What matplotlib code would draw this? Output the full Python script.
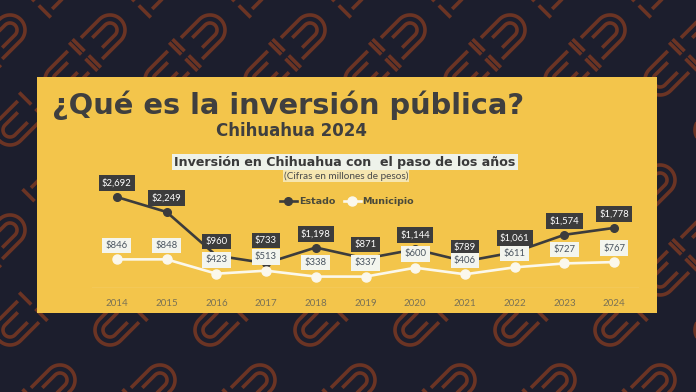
import numpy as np
import matplotlib.pyplot as plt
from matplotlib.patches import Rectangle

# data (millones de pesos)
years = ['2014', '2015', '2016', '2017', '2018', '2019', '2020', '2021', '2022', '2023', '2024']
estado = [2692, 2249, 960, 733, 1198, 871, 1144, 789, 1061, 1574, 1778]
municipio = [846, 848, 423, 513, 338, 337, 600, 406, 611, 727, 767]

title = '¿Qué es la inversión pública?'
subtitle = 'Chihuahua 2024'
chart_title = 'Inversión en Chihuahua con  el paso de los años'
chart_note = '(Cifras en millones de pesos)'

NAVY = '#1c1e2d'
BROWN = '#6b3424'
YELLOW = '#f3c54b'
DARK = '#3c3c3c'
LIGHT = '#f3f5ee'
HEAD = 'DejaVu Sans'
FONT = 'Lato'


def motif(ax, cx, cy, ang):
    """Arch-shaped decoration of the background pattern (pixel coords)"""
    d = np.array([np.cos(ang), np.sin(ang)])
    n = np.array([-d[1], d[0]])
    t = np.linspace(-np.pi / 2, np.pi / 2, 40)
    for r, leg in ((7, 18), (15, 26)):
        u = np.concatenate([[-leg], np.cos(t) * r, [-leg]])
        v = np.concatenate([[-r], np.sin(t) * r, [r]])
        x = cx + u * d[0] + v * n[0]
        y = cy + u * d[1] + v * n[1]
        ax.plot(x, y, color=BROWN, lw=2.6, solid_capstyle='butt', zorder=1)
    # short cross bars below the legs
    for s in (-1, 1):
        u = np.array([-leg - 7, -leg - 7])
        v = np.array([s * 3, s * 20])
        ax.plot(cx + u * d[0] + v * n[0], cy + u * d[1] + v * n[1],
                color=BROWN, lw=2.6, solid_capstyle='butt', zorder=1)


fig = plt.figure(figsize=(6.96, 3.92), dpi=100)
fig.patch.set_facecolor(NAVY)

# background layer in pixel coordinates
bg = fig.add_axes([0, 0, 1, 1])
bg.set_xlim(0, 696)
bg.set_ylim(392, 0)
bg.axis('off')

for row, cy in enumerate(np.arange(-20, 440, 50)):
    for cx in np.arange(-40 + (row % 2) * 50, 760, 100):
        motif(bg, cx, cy, -np.pi / 4 if (row // 2) % 2 == 0 else 3 * np.pi / 4)

bg.add_patch(Rectangle((37, 77), 620, 236, facecolor=YELLOW, edgecolor='none', zorder=5))

bg.text(52, 113.5, title, fontsize=20.8, fontweight='bold', family=HEAD,
        color='#3f3f3f', ha='left', va='baseline', zorder=6)
bg.text(292, 131, subtitle, fontsize=12, fontweight='bold', family=HEAD,
        color='#3f3f3f', ha='center', va='center', zorder=6)
bg.text(345, 162, chart_title, fontsize=9.1, fontweight='bold', family=HEAD,
        color='#3a3a3a', ha='center', va='center', zorder=6,
        bbox=dict(boxstyle='square,pad=0.15', facecolor='#eef2ea', edgecolor='none'))
bg.text(346, 176, chart_note, fontsize=7.2, family=FONT, color='#4a4a4a',
        ha='center', va='center', zorder=6,
        bbox=dict(boxstyle='square,pad=0.1', facecolor='#f6e6b0', edgecolor='none'))

# chart area: y = 0 sits on the light baseline
ax = fig.add_axes([92 / 696, 1 - 288 / 392, 547 / 696, 101.4 / 392])
ax.set_facecolor('none')
ax.set_zorder(10)
x = np.arange(len(years))
ax.set_xlim(-0.5, len(years) - 0.5)
ax.set_ylim(0, 3000)
for s in ax.spines.values():
    s.set_visible(False)
ax.axhline(0, color='#f7d98a', lw=1.0, zorder=1)
ax.set_yticks([])
ax.set_xticks(x)
ax.set_xticklabels(years, fontsize=7, color='#7a7255', family=FONT)
ax.tick_params(axis='x', length=0, pad=8)

l1, = ax.plot(x, estado, '-o', color=DARK, lw=1.9, ms=5.5, label='Estado',
              clip_on=False, zorder=3)
l2, = ax.plot(x, municipio, '-o', color='#fbf8ec', lw=1.9, ms=6.5, label='Municipio',
              clip_on=False, zorder=4)

for i in range(len(years)):
    # lift the state label if it would sit on the municipal one
    off = 16.5 if abs(estado[i] - municipio[i]) < 300 else 10
    ax.annotate(f'${estado[i]:,}', (x[i], estado[i]), xytext=(0, off),
                textcoords='offset points', ha='center', va='center',
                fontsize=6.8, color='white', family=FONT, zorder=5,
                bbox=dict(boxstyle='square,pad=0.35', facecolor=DARK, edgecolor='none'),
                annotation_clip=False)
    ax.annotate(f'${municipio[i]:,}', (x[i], municipio[i]), xytext=(0, 10),
                textcoords='offset points', ha='center', va='center',
                fontsize=6.8, color='#4a5560', family=FONT, zorder=6,
                bbox=dict(boxstyle='square,pad=0.35', facecolor=LIGHT, edgecolor='none'),
                annotation_clip=False)

leg = fig.legend(handles=[l1, l2], loc='center', bbox_to_anchor=(347 / 696, 1 - 202 / 392),
                 ncol=2, frameon=False, handlelength=1.8, handletextpad=0.2,
                 columnspacing=0.9, prop={'family': HEAD, 'weight': 'bold', 'size': 6.8})
for t in leg.get_texts():
    t.set_color('#4a4a3a')
leg.set_zorder(20)

fig.savefig('out.png', dpi=100, facecolor=NAVY)
